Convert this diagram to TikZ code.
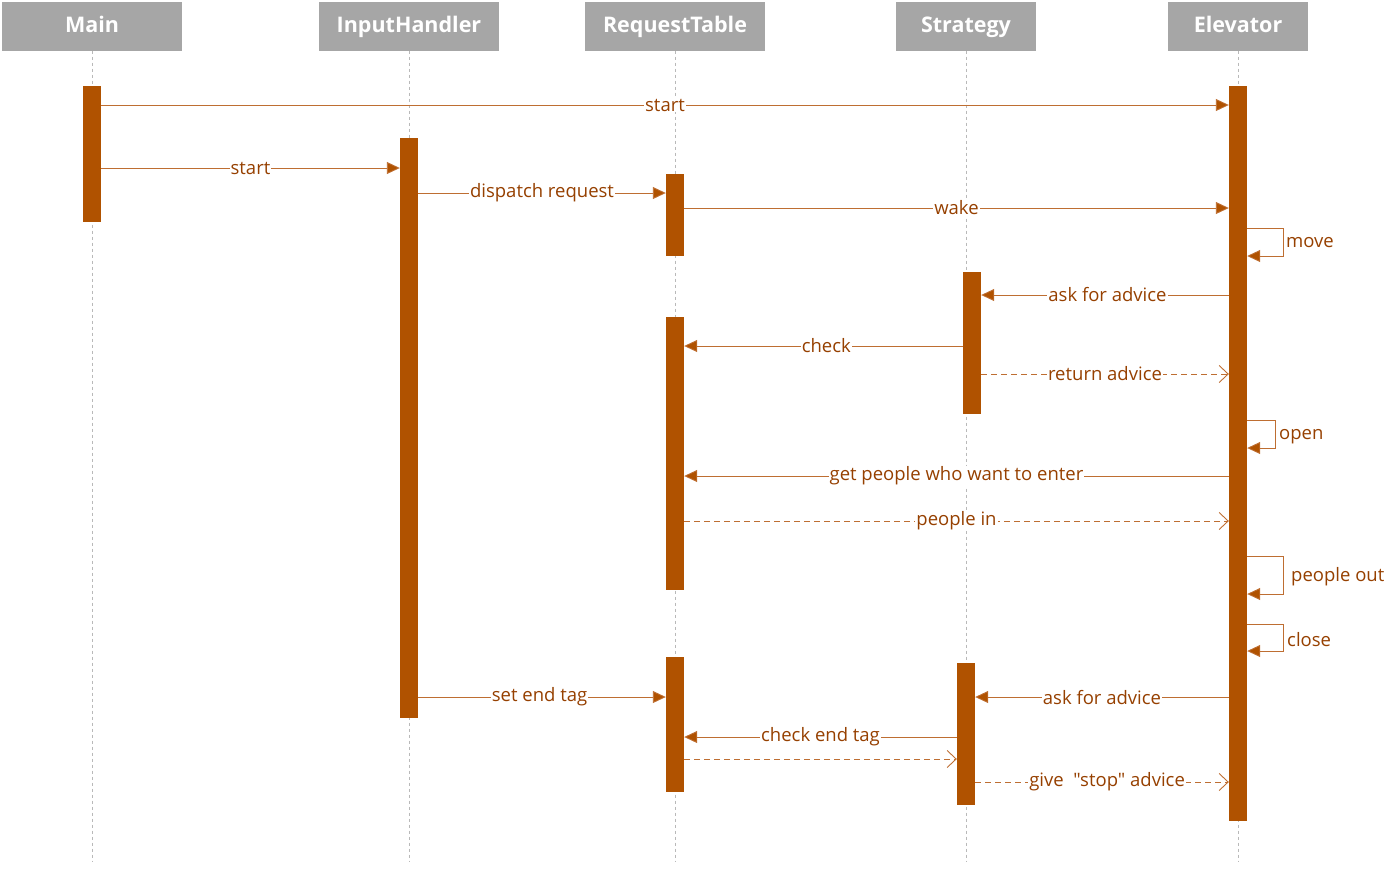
\documentclass[tikz,border=0pt]{standalone}
\usepackage{fontspec}
\setmainfont{Open Sans}[Ligatures=TeXOff]
\usetikzlibrary{arrows.meta, positioning}
\definecolor{rust}{RGB}{176,82,0}
\definecolor{rusttext}{RGB}{150,64,0}
\definecolor{rustline}{RGB}{190,110,50}
\definecolor{headgray}{RGB}{166,166,166}
\tikzset{
x=1pt, y=-1pt, % one unit is one pixel of the sketch, y runs downwards
head/.style={fill=headgray, text=white, font=\fontsize{21.5}{24}\selectfont\bfseries, minimum height=49, text height=16, text depth=3, inner sep=0pt}, % the boxes with the class names
life/.style={draw=gray!55, dashed, line width=0.8pt}, % the lifelines
bar/.style={fill=rust, minimum width=18, inner sep=0pt}, % activation bars
msg/.style={draw=rustline, line width=0.9pt, -{Triangle[length=13pt, width=12pt, fill=rust]}}, % calls
reply/.style={draw=rustline, line width=0.9pt, dashed, dash pattern=on 6pt off 4pt, -{Straight Barb[length=9pt, width=17pt]}}, % answers
lbl/.style={fill=white, text=rusttext, font=\fontsize{18.5}{22}\selectfont, inner sep=1pt}, % text on a message
side/.style={text=rusttext, font=\fontsize{18.5}{22}\selectfont, anchor=west, inner sep=1pt}, % text beside a self call
}
\begin{document}
\begin{tikzpicture}
  \useasboundingbox (0,0) rectangle (1399,868);
  % heads and lifelines
  \node[head, minimum width=180] (main) at (92,26) {Main};
  \node[head, minimum width=180] (input) at (409,26) {InputHandler};
  \node[head, minimum width=180] (table) at (675,26) {RequestTable};
  \node[head, minimum width=140] (strategy) at (966,26) {Strategy};
  \node[head, minimum width=140] (elevator) at (1238,26) {Elevator};
  \foreach \n in {main, input, table, strategy, elevator}
    \draw[life] (\n.south) -- (\n.south |- 0,862);
  % activation bars
  \node[bar, minimum height=136] (mainbar) at (92,154) {};
  \node[bar, minimum height=580] (inputbar) at (409,428) {};
  \node[bar, minimum height=82] (tablebar1) at (675,215) {};
  \node[bar, minimum height=273] (tablebar2) at (675,453.5) {};
  \node[bar, minimum height=135] (tablebar3) at (675,724.5) {};
  \node[bar, minimum height=142] (stratbar1) at (972,343) {};
  \node[bar, minimum height=142] (stratbar2) at (966,734) {};
  \node[bar, minimum height=735] (elebar) at (1238,453.5) {};
  % messages
  \draw[msg] (mainbar.east |- 0,105) -- node[lbl]{start} (elebar.west |- 0,105);
  \draw[msg] (mainbar.east |- 0,168) -- node[lbl]{start} (inputbar.west |- 0,168);
  \draw[msg] (inputbar.east |- 0,193) -- node[lbl]{dispatch request} (tablebar1.west |- 0,193);
  \draw[msg] (tablebar1.east |- 0,208) -- node[lbl]{wake} (elebar.west |- 0,208);
  \draw[msg] (elebar.east |- 0,228) -- ++(36,0) |- (elebar.east |- 0,256);
  \node[side] (movetext) at (1285,243) {move};
  \draw[msg] (elebar.west |- 0,295) -- node[lbl, pos=0.49]{ask for advice} (stratbar1.east |- 0,295);
  \draw[msg] (stratbar1.west |- 0,346) -- node[lbl, pos=0.49]{check} (tablebar2.east |- 0,346);
  \draw[reply] (stratbar1.east |- 0,374) -- node[lbl, pos=0.5]{return advice} (elebar.west |- 0,374);
  \draw[msg] (elebar.east |- 0,420) -- ++(28,0) |- (elebar.east |- 0,448);
  \node[side] (opentext) at (1278,437) {open};
  \draw[msg] (elebar.west |- 0,476) -- node[lbl, pos=0.5]{get people who want to enter} (tablebar2.east |- 0,476);
  \draw[reply] (tablebar2.east |- 0,521) -- node[lbl, pos=0.5]{people in} (elebar.west |- 0,521);
  \draw[msg] (elebar.east |- 0,556) -- ++(36,0) |- (elebar.east |- 0,594);
  \node[side] (outtext) at (1290,577) {people out};
  \draw[msg] (elebar.east |- 0,624) -- ++(36,0) |- (elebar.east |- 0,651);
  \node[side] (closetext) at (1286,640) {close};
  \draw[msg] (elebar.west |- 0,697) -- node[lbl, pos=0.5]{ask for advice} (stratbar2.east |- 0,697);
  \draw[msg] (inputbar.east |- 0,697) -- node[lbl, pos=0.49]{set end tag} (tablebar3.west |- 0,697);
  \draw[msg] (stratbar2.west |- 0,737) -- node[lbl, pos=0.5]{check end tag} (tablebar3.east |- 0,737);
  \draw[reply] (tablebar3.east |- 0,759) -- (stratbar2.west |- 0,759);
  \draw[reply] (stratbar2.east |- 0,782) -- node[lbl, pos=0.52]{give\ \ "stop" advice} (elebar.west |- 0,782);
\end{tikzpicture}
\end{document}
